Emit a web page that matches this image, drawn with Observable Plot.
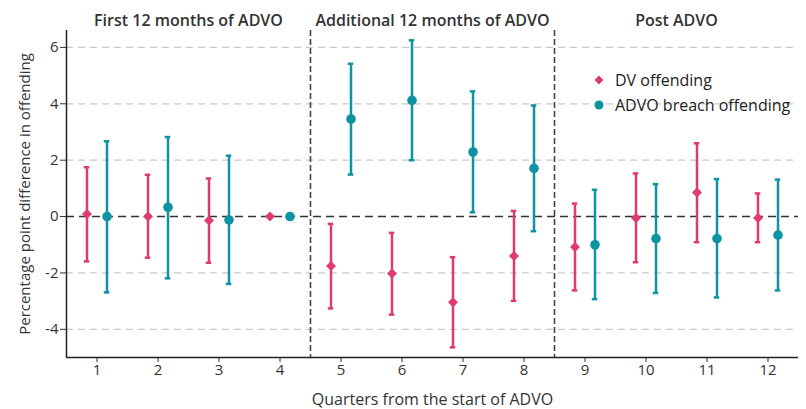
<!DOCTYPE html>
<html><head><meta charset="utf-8">
<script src="https://cdn.jsdelivr.net/npm/d3@7"></script>
<script src="https://cdn.jsdelivr.net/npm/@observablehq/plot@0.6"></script>
<style>
body{margin:0;background:#fff;font-family:"Open Sans",sans-serif}
#wrap{position:relative;width:806px;height:409px}
.legend{position:absolute;left:593px;top:67px;font-family:"Open Sans";font-size:16px;color:#222}
.legend div{display:flex;align-items:center;height:25px}
.legend svg{margin-right:10px}
</style></head>
<body><div id="wrap"></div>
<script>
const quarters = [1,2,3,4,5,6,7,8,9,10,11,12];
const dvEst  = [0.09, 0.00, -0.14, 0.00, -1.75, -2.02, -3.04, -1.40, -1.08, -0.05, 0.85, -0.05];
const dvLow  = [-1.59, -1.46, -1.64, null, -3.26, -3.48, -4.64, -2.99, -2.62, -1.62, -0.91, -0.91];
const dvHigh = [1.75, 1.48, 1.35, null, -0.26, -0.58, -1.44, 0.20, 0.46, 1.53, 2.60, 0.82];
const advoEst  = [0.00, 0.33, -0.12, 0.00, 3.46, 4.12, 2.29, 1.71, -1.00, -0.78, -0.78, -0.66];
const advoLow  = [-2.69, -2.19, -2.39, null, 1.49, 2.00, 0.15, -0.52, -2.93, -2.71, -2.87, -2.62];
const advoHigh = [2.67, 2.82, 2.16, null, 5.42, 6.25, 4.44, 3.94, 0.95, 1.15, 1.33, 1.31];
const yTicks = [-4, -2, 0, 2, 4, 6];
const panels = [
  {label: "First 12 months of ADVO", from: 1, to: 4},
  {label: "Additional 12 months of ADVO", from: 5, to: 8},
  {label: "Post ADVO", from: 9, to: 12}
];
const seriesNames = ["DV offending", "ADVO breach offending"];
const xLabel = "Quarters from the start of ADVO";
const yLabel = "Percentage point difference in offending";
const colors = ["#df3b72", "#0d93a1"];
const symbols = ["diamond2", "circle"];

const offset = 0.164, cap = 0.045;
const rows = [];
quarters.forEach((q, i) => {
  rows.push({s: 0, x: q - offset, est: dvEst[i], low: dvLow[i], high: dvHigh[i]});
  rows.push({s: 1, x: q + offset, est: advoEst[i], low: advoLow[i], high: advoHigh[i]});
});
const bars = rows.filter(d => d.low != null);
const dividers = panels.slice(1).map(p => p.from - 0.5);
const xDomain = [quarters[0] - 0.5, quarters[quarters.length - 1] + 0.5];
const yDomain = [-5, 6.6];

const marks = [
  Plot.ruleY(yTicks.filter(d => d !== 0), {stroke: "#c9c9c9", strokeWidth: 1.2, strokeDasharray: "7,5"}),
  Plot.ruleY([0], {stroke: "#333", strokeWidth: 1.6, strokeDasharray: "8,5"}),
  Plot.ruleX(dividers, {stroke: "#444", strokeWidth: 1.6, strokeDasharray: "6,3"}),
  Plot.axisX({ticks: quarters, tickSize: 5, tickPadding: 2, tickFormat: d => d, fontSize: 15, label: null}),
  Plot.axisY({ticks: yTicks, tickSize: 6, tickPadding: 2, tickFormat: d => d, fontSize: 15, label: null}),
  Plot.ruleX([xDomain[0]], {stroke: "#222", strokeWidth: 1.5}),
  Plot.ruleY([yDomain[0]], {stroke: "#222", strokeWidth: 1.5}),
  Plot.text([xLabel], {frameAnchor: "bottom", dy: 42, lineAnchor: "middle", textAnchor: "middle",
    text: d => d, fontSize: 16, fontWeight: 500, fill: "#333"}),
  Plot.text([yLabel], {frameAnchor: "left", dx: -41, rotate: -90, lineAnchor: "middle", textAnchor: "middle",
    text: d => d, fontSize: 15, fontWeight: 500, fill: "#333"})
];
[0, 1].forEach(s => {
  const b = bars.filter(d => d.s === s);
  const r = rows.filter(d => d.s === s);
  marks.push(
    Plot.ruleX(b, {x: "x", y1: "low", y2: "high", stroke: colors[s], strokeWidth: 2.5}),
    Plot.ruleY(b, {y: "high", x1: d => d.x - cap, x2: d => d.x + cap, stroke: colors[s], strokeWidth: 2.5}),
    Plot.ruleY(b, {y: "low", x1: d => d.x - cap, x2: d => d.x + cap, stroke: colors[s], strokeWidth: 2.5}),
    Plot.dot(r, {x: "x", y: "est", symbol: symbols[s], fill: colors[s], r: s === 0 ? 4.5 : 4.8})
  );
});
marks.push(Plot.text(panels, {x: d => (d.from + d.to) / 2, frameAnchor: "top", dy: -10, lineAnchor: "middle",
  text: "label", fontSize: 16, fontWeight: 600, fill: "#333"}));

const chart = Plot.plot({
  width: 806, height: 409,
  marginLeft: 66, marginRight: 8, marginTop: 30, marginBottom: 52,
  x: {domain: xDomain},
  y: {domain: yDomain},
  style: {fontFamily: "Open Sans", fontSize: "15px", color: "#333", background: "#fff"},
  marks
});
const wrap = document.getElementById("wrap");
wrap.appendChild(chart);

const legend = document.createElement("div");
legend.className = "legend";
seriesNames.forEach((name, i) => {
  const row = document.createElement("div");
  const sym = i === 0
    ? `<svg width="12" height="12" viewBox="-6 -6 12 12"><path d="M0,-4.5L4.5,0L0,4.5L-4.5,0Z" fill="${colors[i]}"/></svg>`
    : `<svg width="12" height="12" viewBox="-6 -6 12 12"><circle r="4.5" fill="${colors[i]}"/></svg>`;
  row.innerHTML = sym + `<span>${name}</span>`;
  legend.appendChild(row);
});
wrap.appendChild(legend);
</script></body></html>
